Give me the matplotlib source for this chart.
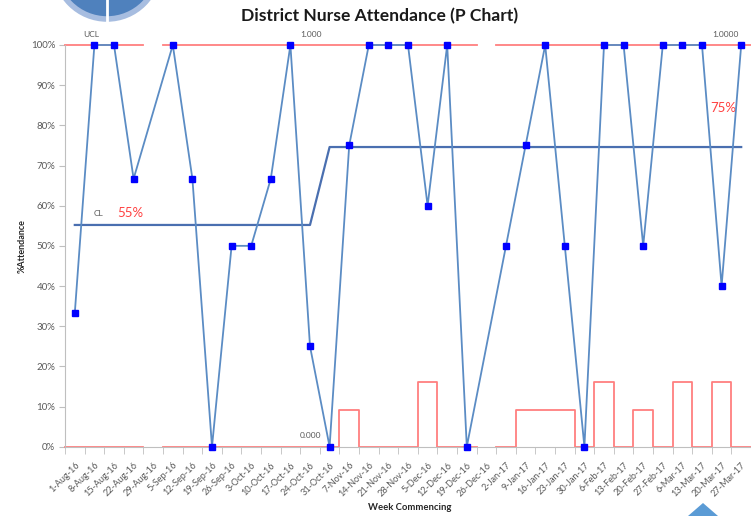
import numpy as np
import matplotlib
matplotlib.use("Agg")
import matplotlib.pyplot as plt
from matplotlib.patches import Ellipse, Polygon

# --- DATA ---
weeks = [
    "1-Aug-16", "8-Aug-16", "15-Aug-16", "22-Aug-16", "29-Aug-16", "5-Sep-16",
    "12-Sep-16", "19-Sep-16", "26-Sep-16", "3-Oct-16", "10-Oct-16", "17-Oct-16",
    "24-Oct-16", "31-Oct-16", "7-Nov-16", "14-Nov-16", "21-Nov-16", "28-Nov-16",
    "5-Dec-16", "12-Dec-16", "19-Dec-16", "26-Dec-16", "2-Jan-17", "9-Jan-17",
    "16-Jan-17", "23-Jan-17", "30-Jan-17", "6-Feb-17", "13-Feb-17", "20-Feb-17",
    "27-Feb-17", "6-Mar-17", "13-Mar-17", "20-Mar-17", "27-Mar-17",
]
nan = np.nan
attendance = [33.3, 100, 100, 66.7, nan, 100, 66.7, 0, 50, 50, 66.7, 100, 25,
              0, 75, 100, 100, 100, 60, 100, 0, nan, 50, 75, 100, 50, 0, 100,
              100, 50, 100, 100, 100, 40, 100]
centre_line = [55.2] * 13 + [74.6] * 22
ucl = [100, 100, 100, 100, nan] + [100] * 16 + [nan] + [100] * 13
lcl = [0, 0, 0, 0, nan, 0, 0, 0, 0, 0, 0, 0, 0, 0, 9.1, 0, 0, 0, 16.2, 0, 0,
       nan, 0, 9.1, 9.1, 9.1, 0, 16.2, 0, 9.1, 0, 16.2, 0, 16.2, 0]

plt.rcParams["font.family"] = ["Lato", "DejaVu Sans"]
GREY = "#595959"

fig = plt.figure(figsize=(7.51, 5.16), dpi=100)
ax = fig.add_axes([65 / 751, 69.3 / 516, 686 / 751, 401.7 / 516])

x = np.arange(len(weeks))
att = np.array(attendance, dtype=float)


def step_xy(values):
    # each week drawn as a flat segment across its full category width
    xs, ys = [], []
    for i, v in enumerate(values):
        xs += [i - 0.5, i + 0.5]
        ys += [v, v]
    return xs, ys


ux, uy = step_xy(ucl)
lx, ly = step_xy(lcl)
ax.plot(ux, uy, color="#FF7F7F", lw=1.3, clip_on=False, zorder=2)
ax.plot(lx, ly, color="#FF7F7F", lw=1.3, clip_on=False, zorder=2)

ax.plot(x, centre_line, color="#4A6FB0", lw=1.6, zorder=3)

ok = ~np.isnan(att)
ax.plot(x[ok], att[ok], color="#5B8CC4", lw=1.3, zorder=4, clip_on=False)
ax.plot(x[ok], att[ok], ls="none", marker="s", ms=5, color="#0000FF",
        zorder=5, clip_on=False)

ax.set_xlim(-0.5, 34.16)
ax.set_ylim(0, 100)

# axes styling
for s in ["top", "right"]:
    ax.spines[s].set_visible(False)
for s in ["left", "bottom"]:
    ax.spines[s].set_color("#BFBFBF")
ax.set_yticks(np.arange(0, 101, 10))
ax.set_yticklabels([f"{v}%" for v in range(0, 101, 10)], fontsize=7, color=GREY)
ax.tick_params(axis="y", length=4, color="#BFBFBF", pad=3)

ax.set_xticks(x)
ax.set_xticklabels(weeks, rotation=45, ha="right", rotation_mode="anchor",
                   fontsize=6.6, color=GREY)
ax.tick_params(axis="x", which="major", length=0, pad=10)
ax.set_xticks(np.arange(-0.5, 34.6, 1), minor=True)
ax.tick_params(axis="x", which="minor", length=5, color="#BFBFBF")

# annotations
ax.text(0.86, 102.5, "UCL", fontsize=6, color=GREY, ha="center", va="center")
ax.text(12.03, 102.5, "1.000", fontsize=6, color=GREY, ha="center", va="center")
ax.text(33.2, 102.5, "1.0000", fontsize=6, color=GREY, ha="center", va="center")
ax.text(12.03, 2.7, "0.000", fontsize=6, color=GREY, ha="center", va="center")
ax.text(1.22, 58, "CL", fontsize=6, color=GREY, ha="center", va="center")
ax.text(2.81, 58.2, "55%", fontsize=9.5, color="#FF4040", ha="center", va="center")
ax.text(33.1, 84.4, "75%", fontsize=9.5, color="#FF4040", ha="center", va="center")

fig.text(380 / 751, 1 - 16 / 516, "District Nurse Attendance (P Chart)",
         fontsize=12.6, fontweight="bold", color="#1A1A1A", ha="center", va="center")
fig.text(22 / 751, 1 - 246 / 516, "%Attendance", rotation=90, fontsize=6.5,
         fontweight="bold", color="#262626", ha="center", va="center")
fig.text(410 / 751, 1 - 508 / 516, "Week Commencing", fontsize=6.8,
         fontweight="bold", color="#262626", ha="center", va="center")

# partial logo graphics at the edges of the cropped picture
W, H = 751, 516
logo = Ellipse((107 / W, 1 + 33 / H), 104 / W, 104 / H, transform=fig.transFigure,
               facecolor="#4F81BD", edgecolor="#A7BDE0", lw=4)
fig.patches.append(logo)
fig.add_artist(plt.Line2D([107 / W, 107 / W], [1, 1 - 21 / H],
                          transform=fig.transFigure, color="white", lw=2))
tri = Polygon([[688 / W, 0], [718 / W, 0], [703 / W, 13 / H]],
              closed=True, transform=fig.transFigure, facecolor="#5B9BD5",
              edgecolor="none")
fig.patches.append(tri)

fig.savefig("out.png", dpi=100, facecolor="white")
